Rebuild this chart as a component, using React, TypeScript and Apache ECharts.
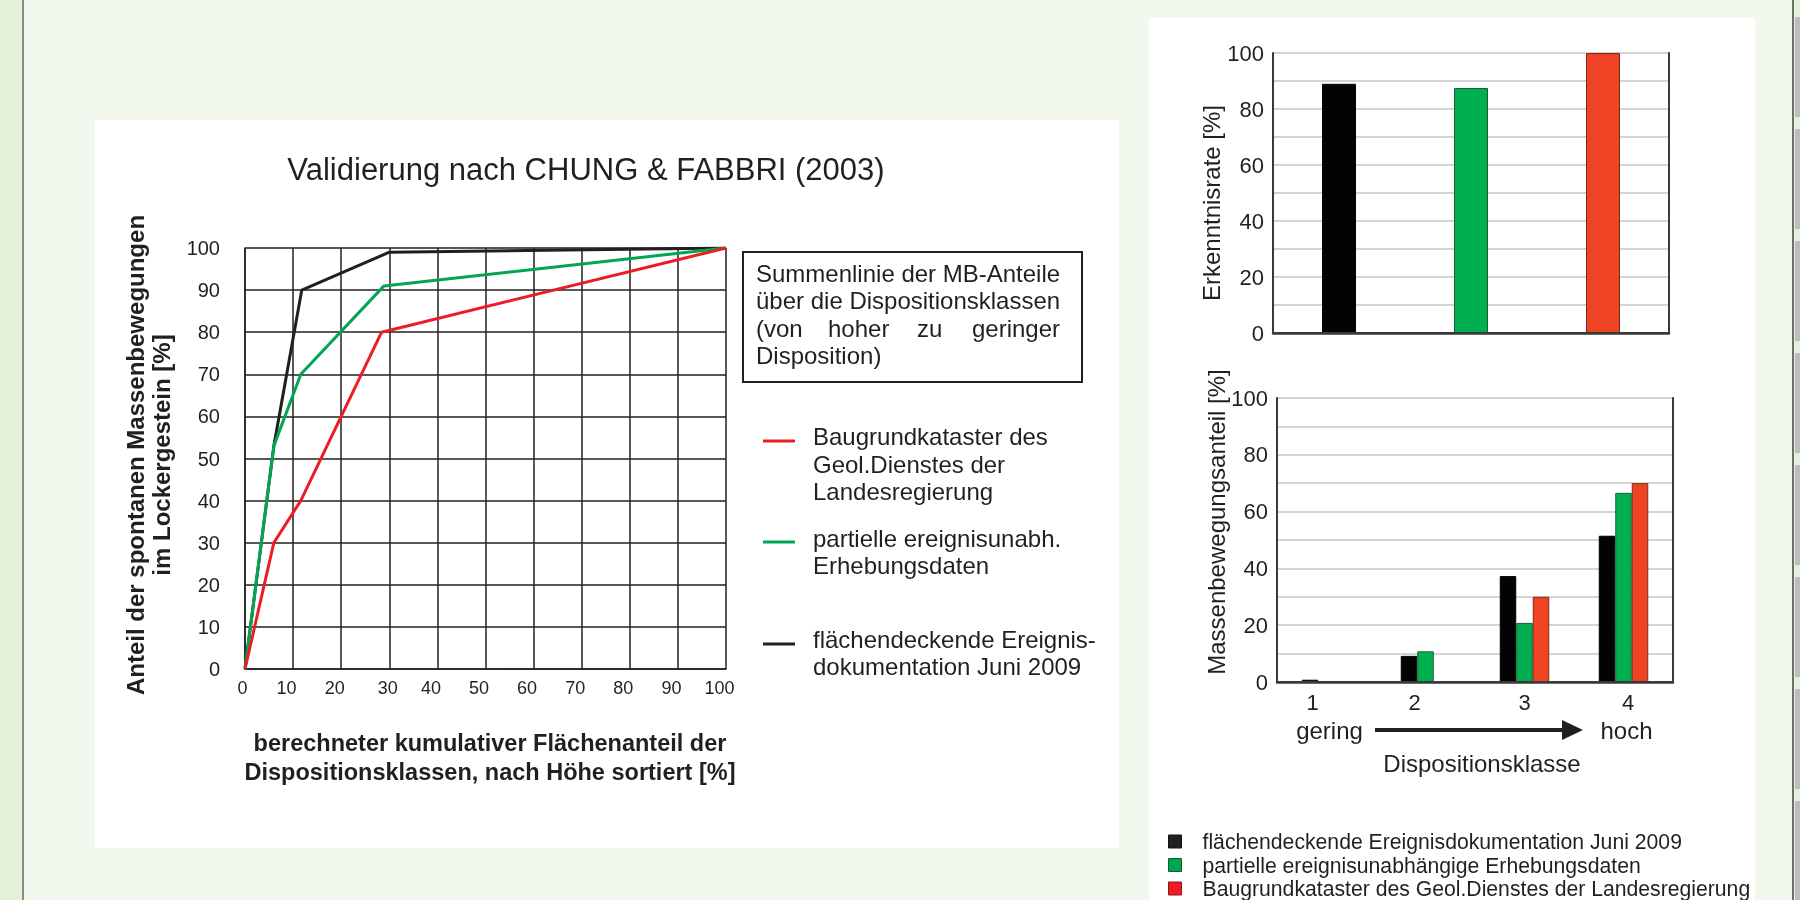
import React, { useEffect, useRef } from "react";
import * as echarts from "echarts";

const FONT = '"Liberation Sans", Arial, Helvetica, sans-serif';
const INK = "#231f20";

// Summenlinien: kumulativer Flächenanteil [%] -> Anteil der Massenbewegungen [%]
const cumAreaBlack = [0, 6, 11.8, 30, 100];
const cumShareBlack = [0, 53, 90, 99, 100];
const cumAreaGreen = [0, 6, 11.6, 28.9, 100];
const cumShareGreen = [0, 53, 70, 91, 100];
const cumAreaRed = [0, 6, 11.6, 28.4, 100];
const cumShareRed = [0, 30, 40, 80, 100];

const lineNames = [
  "Baugrundkataster des Geol.Dienstes der Landesregierung (Summenlinie)",
  "partielle ereignisunabh. Erhebungsdaten (Summenlinie)",
  "flächendeckende Ereignisdokumentation Juni 2009 (Summenlinie)",
];

// Datengrundlagen (Balken)
const sourceNames = [
  "flächendeckende Ereignisdokumentation Juni 2009",
  "partielle ereignisunabhängige Erhebungsdaten",
  "Baugrundkataster des Geol.Dienstes der Landesregierung",
];
const barColors = ["#030304", "#00b050", "#ee4423"];
const barBorders = ["#030304", "#1b5e35", "#7a2a18"];
const legendColors = ["#231f20", "#00a651", "#ed1c24"];
const legendBorders = ["#111111", "#0f5e30", "#8a1a1a"];

// Erkenntnisrate [%]
const recognitionRate = [89, 87.5, 100];

// Massenbewegungsanteil je Dispositionsklasse [%]
const dispClasses = ["1", "2", "3", "4"];
const shareBlack = [0.8, 9.2, 37.3, 51.5];
const shareGreen = [0.3, 10.8, 20.8, 66.6];
const shareRed = [0, 0, 30, 70];

const zip = (xs: number[], ys: number[]) => xs.map((x, i) => [x, ys[i]]);

export default function App() {
  const ref = useRef<HTMLDivElement>(null);

  useEffect(() => {
    if (!ref.current) return;
    const chart = echarts.init(ref.current, null, { renderer: "svg" });

    const txt = (extra: any) => ({
      type: "text",
      silent: true,
      ...extra,
      style: { fill: INK, font: `24px ${FONT}`, ...extra.style },
    });

    const valueAxisRight = (gridIndex: number) => ({
      gridIndex,
      type: "value",
      position: "right",
      min: 0,
      max: 100,
      z: 4,
      axisLine: { show: true, lineStyle: { color: "#3a3a3a", width: 2 } },
      axisTick: { show: false },
      axisLabel: { show: false },
      splitLine: { show: false },
    });

    const catAxisTop = (gridIndex: number, data: string[]) => ({
      gridIndex,
      type: "category",
      position: "top",
      data,
      z: 4,
      axisLine: { show: true, lineStyle: { color: "#3a3a3a", width: 2 } },
      axisTick: { show: false },
      axisLabel: { show: false },
    });

    const barValueAxis = (gridIndex: number) => ({
      gridIndex,
      type: "value",
      min: 0,
      max: 100,
      interval: 10,
      axisLine: { show: true, lineStyle: { color: "#3a3a3a", width: 2 } },
      axisTick: { show: false },
      splitLine: { show: true, lineStyle: { color: "#c6c6c6", width: 1.5 } },
      axisLabel: {
        fontFamily: FONT,
        fontSize: 22,
        color: INK,
        margin: 9,
        padding: [7, 0, 0, 0],
        formatter: (v: number) => (v % 20 === 0 ? String(v) : ""),
      },
    });

    const option: any = {
      animation: false,
      textStyle: { fontFamily: FONT },
      title: {
        text: "Validierung nach CHUNG & FABBRI (2003)",
        left: 581,
        top: 149,
        textAlign: "center",
        textStyle: { fontFamily: FONT, fontSize: 31, fontWeight: "normal", color: INK },
      },
      legend: {
        orient: "vertical",
        left: 1168,
        top: 831,
        padding: 0,
        itemWidth: 13,
        itemHeight: 13,
        itemGap: 2.5,
        icon: "rect",
        data: sourceNames.map((n, i) => ({
          name: n,
          itemStyle: { color: legendColors[i], borderColor: legendBorders[i], borderWidth: 1 },
        })),
        textStyle: { fontFamily: FONT, fontSize: 21.2, color: INK, lineHeight: 21, padding: [0, 0, 0, 16] },
      },
      grid: [
        { left: 245, top: 248, width: 481, height: 421 },
        { left: 1273, top: 53, width: 396, height: 280 },
        { left: 1277, top: 398, width: 396, height: 284 },
      ],
      xAxis: [
        {
          gridIndex: 0,
          type: "value",
          min: 0,
          max: 100,
          interval: 10,
          axisLine: { show: true, lineStyle: { color: INK, width: 1.5 } },
          axisTick: { show: false },
          splitLine: { show: true, lineStyle: { color: INK, width: 1.5 } },
          axisLabel: {
            fontFamily: FONT,
            fontSize: 18,
            color: INK,
            margin: 10,
            formatter: (v: number) => `{${v === 0 ? "a" : v === 30 ? "b" : "c"}|${v}}`,
            rich: {
              a: { fontSize: 18, padding: [0, 5, 0, 0] },
              b: { fontSize: 18, padding: [0, 3, 0, 0] },
              c: { fontSize: 18, padding: [0, 13, 0, 0] },
            },
          },
        },
        {
          gridIndex: 1,
          type: "category",
          data: sourceNames,
          z: 4,
          axisLine: { show: true, lineStyle: { color: "#3a3a3a", width: 2.5 } },
          axisTick: { show: false },
          axisLabel: { show: false },
        },
        catAxisTop(1, sourceNames),
        {
          gridIndex: 2,
          type: "category",
          data: dispClasses,
          z: 4,
          axisLine: { show: true, lineStyle: { color: "#3a3a3a", width: 2.5 } },
          axisTick: { show: false },
          axisLabel: {
            interval: 0,
            fontFamily: FONT,
            fontSize: 22,
            color: INK,
            margin: 6,
            lineHeight: 28,
            formatter: (v: string, i: number) =>
              i === 0
                ? `{n0|${v}}\n{w|gering}`
                : i === 1
                ? `{n1|${v}}`
                : i === 3
                ? `{n3|${v}}\n{w|hoch}`
                : `{n|${v}}`,
            rich: {
              n0: { fontSize: 22, lineHeight: 28, padding: [0, 28, 0, 0] },
              n1: { fontSize: 22, lineHeight: 28, padding: [0, 22, 0, 0] },
              n3: { fontSize: 22, lineHeight: 28, padding: [0, 0, 0, 9] },
              n: { fontSize: 22, lineHeight: 28 },
              w: { fontSize: 24, lineHeight: 28, padding: [0, 0, 0, 6] },
            },
          },
        },
        catAxisTop(2, dispClasses),
      ],
      yAxis: [
        {
          gridIndex: 0,
          type: "value",
          min: 0,
          max: 100,
          interval: 10,
          axisLine: { show: true, lineStyle: { color: INK, width: 1.5 } },
          axisTick: { show: false },
          splitLine: { show: true, lineStyle: { color: INK, width: 1.5 } },
          axisLabel: { fontFamily: FONT, fontSize: 20, color: INK, margin: 25 },
        },
        barValueAxis(1),
        valueAxisRight(1),
        barValueAxis(2),
        valueAxisRight(2),
      ],
      series: [
        {
          name: lineNames[2],
          type: "line",
          xAxisIndex: 0,
          yAxisIndex: 0,
          data: zip(cumAreaBlack, cumShareBlack),
          symbol: "none",
          lineStyle: { color: INK, width: 3 },
          itemStyle: { color: INK },
          z: 3,
        },
        {
          name: lineNames[1],
          type: "line",
          xAxisIndex: 0,
          yAxisIndex: 0,
          data: zip(cumAreaGreen, cumShareGreen),
          symbol: "none",
          lineStyle: { color: "#00a651", width: 3 },
          itemStyle: { color: "#00a651" },
          z: 4,
        },
        {
          name: lineNames[0],
          type: "line",
          xAxisIndex: 0,
          yAxisIndex: 0,
          data: zip(cumAreaRed, cumShareRed),
          symbol: "none",
          lineStyle: { color: "#ec1c24", width: 3 },
          itemStyle: { color: "#ec1c24" },
          z: 5,
        },
        ...sourceNames.map((n, i) => ({
          name: n,
          type: "bar",
          xAxisIndex: 1,
          yAxisIndex: 1,
          barWidth: 34,
          barGap: "-100%",
          data: sourceNames.map((_, j) => (j === i ? recognitionRate[i] : "-")),
          itemStyle: { color: barColors[i], borderColor: barBorders[i], borderWidth: 1 },
        })),
        ...[shareBlack, shareGreen, shareRed].map((d, i) => ({
          name: sourceNames[i],
          type: "bar",
          xAxisIndex: 3,
          yAxisIndex: 3,
          barWidth: 16.5,
          barGap: "0%",
          data: d,
          itemStyle: { color: barColors[i], borderColor: barBorders[i], borderWidth: 1 },
        })),
      ],
      graphic: [
        // Hintergrund und Flächen
        { type: "rect", z: -100, silent: true, shape: { x: 0, y: 0, width: 1800, height: 900 }, style: { fill: "#f2f8ee" } },
        { type: "rect", z: -99, silent: true, shape: { x: 0, y: 0, width: 22, height: 900 }, style: { fill: "#e4f3d8" } },
        { type: "rect", z: -99, silent: true, shape: { x: 22, y: 0, width: 2, height: 900 }, style: { fill: "#8c8c8c" } },
        { type: "rect", z: -99, silent: true, shape: { x: 1792, y: 0, width: 2, height: 900 }, style: { fill: "#6f6f6f" } },
        { type: "rect", z: -99, silent: true, shape: { x: 1794, y: 0, width: 6, height: 900 }, style: { fill: "#e4f3d8" } },
        { type: "line", z: -98, silent: true, shape: { x1: 1797.5, y1: 17, x2: 1797.5, y2: 900 }, style: { stroke: "#bdbdbd", lineWidth: 5, lineDash: [100, 12] } },
        { type: "rect", z: -99, silent: true, shape: { x: 95, y: 120, width: 1024, height: 728 }, style: { fill: "#ffffff" } },
        { type: "rect", z: -99, silent: true, shape: { x: 1149, y: 18, width: 606, height: 882 }, style: { fill: "#ffffff" } },

        // Erläuterungskasten
        { type: "rect", z: 10, silent: true, shape: { x: 743, y: 252, width: 339, height: 130 }, style: { fill: "#ffffff", stroke: INK, lineWidth: 2 } },
        txt({ z: 11, x: 756, y: 273, style: { text: "Summenlinie der MB-Anteile", textAlign: "left", textVerticalAlign: "middle" } }),
        txt({ z: 11, x: 756, y: 300.5, style: { text: "über die Dispositionsklassen", textAlign: "left", textVerticalAlign: "middle" } }),
        txt({ z: 11, x: 756, y: 328, style: { text: "(von", textAlign: "left", textVerticalAlign: "middle" } }),
        txt({ z: 11, x: 828, y: 328, style: { text: "hoher", textAlign: "left", textVerticalAlign: "middle" } }),
        txt({ z: 11, x: 917, y: 328, style: { text: "zu", textAlign: "left", textVerticalAlign: "middle" } }),
        txt({ z: 11, x: 1060, y: 328, style: { text: "geringer", textAlign: "right", textVerticalAlign: "middle" } }),
        txt({ z: 11, x: 756, y: 355.5, style: { text: "Disposition)", textAlign: "left", textVerticalAlign: "middle" } }),

        // Legende der Summenlinien
        { type: "line", z: 11, silent: true, shape: { x1: 763, y1: 441, x2: 795, y2: 441 }, style: { stroke: "#ec1c24", lineWidth: 3 } },
        txt({ z: 11, x: 813, y: 423, style: { text: "Baugrundkataster des\nGeol.Dienstes der\nLandesregierung", textAlign: "left", textVerticalAlign: "top", lineHeight: 27.5 } }),
        { type: "line", z: 11, silent: true, shape: { x1: 763, y1: 542, x2: 795, y2: 542 }, style: { stroke: "#00a651", lineWidth: 3 } },
        txt({ z: 11, x: 813, y: 524.5, style: { text: "partielle ereignisunabh.\nErhebungsdaten", textAlign: "left", textVerticalAlign: "top", lineHeight: 27.5 } }),
        { type: "line", z: 11, silent: true, shape: { x1: 763, y1: 644, x2: 795, y2: 644 }, style: { stroke: INK, lineWidth: 3 } },
        txt({ z: 11, x: 813, y: 625.5, style: { text: "flächendeckende Ereignis-\ndokumentation Juni 2009", textAlign: "left", textVerticalAlign: "top", lineHeight: 27.5 } }),

        // Achsentitel links
        txt({
          z: 11,
          x: 148,
          y: 455,
          rotation: Math.PI / 2,
          style: {
            text: "Anteil der spontanen Massenbewegungen\nim Lockergestein [%]",
            font: `bold 24px ${FONT}`,
            textAlign: "center",
            textVerticalAlign: "middle",
            lineHeight: 26,
          },
        }),
        txt({
          z: 11,
          x: 490,
          y: 757.5,
          style: {
            text: "berechneter kumulativer Flächenanteil der\nDispositionsklassen, nach Höhe sortiert [%]",
            font: `bold 23.5px ${FONT}`,
            textAlign: "center",
            textVerticalAlign: "middle",
            lineHeight: 28.4,
          },
        }),

        // Achsentitel rechts
        txt({ z: 11, x: 1211, y: 203, rotation: Math.PI / 2, style: { text: "Erkenntnisrate [%]", textAlign: "center", textVerticalAlign: "middle" } }),
        txt({ z: 11, x: 1216, y: 522, rotation: Math.PI / 2, style: { text: "Massenbewegungsanteil [%]", textAlign: "center", textVerticalAlign: "middle" } }),
        txt({ z: 11, x: 1482, y: 763, style: { text: "Dispositionsklasse", textAlign: "center", textVerticalAlign: "middle" } }),

        // Pfeil von gering nach hoch
        { type: "line", z: 11, silent: true, shape: { x1: 1375, y1: 730, x2: 1566, y2: 730 }, style: { stroke: INK, lineWidth: 4 } },
        { type: "polygon", z: 11, silent: true, shape: { points: [[1562, 720], [1583, 730], [1562, 740]] }, style: { fill: INK } },
      ],
    };

    chart.setOption(option);
    return () => chart.dispose();
  }, []);

  return (
    <div
      ref={ref}
      style={{ position: "fixed", left: 0, top: 0, width: 1800, height: 900 }}
    />
  );
}
